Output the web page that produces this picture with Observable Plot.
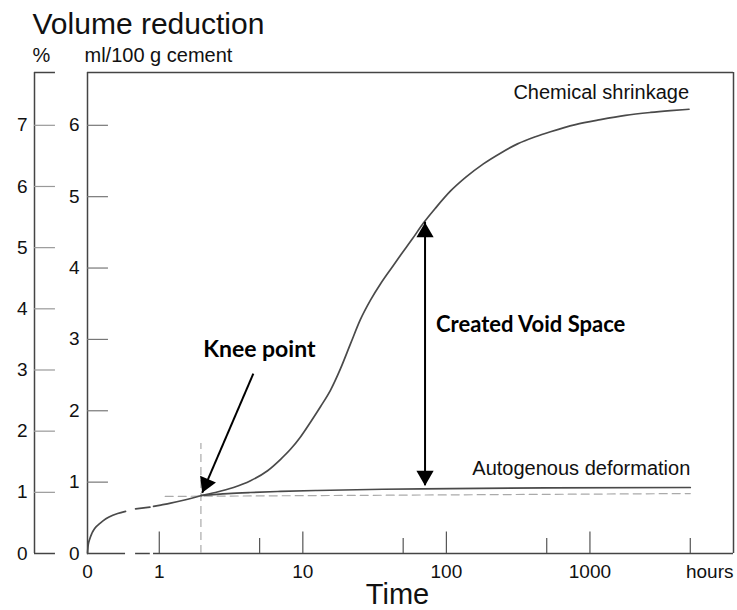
<!DOCTYPE html>
<html>
<head>
<meta charset="utf-8">
<script src="https://cdn.jsdelivr.net/npm/d3@7"></script>
<script src="https://cdn.jsdelivr.net/npm/@observablehq/plot@0.6"></script>
<style>
  html, body { margin: 0; padding: 0; background: #fff; }
  #chart svg { display: block; }
</style>
</head>
<body>
<div id="chart"></div>
<script>
// ---------- data (hours, ml/100 g cement) ----------
const earlyHours  = [0, 0.01, 0.03, 0.06, 0.1, 0.16, 0.22, 0.3, 0.42, 0.53];
const earlyValues = [0, 0.12, 0.2, 0.28, 0.35, 0.41, 0.46, 0.51, 0.56, 0.59];
const bridgeHours  = [0.67, 0.87];
const bridgeValues = [0.625, 0.65];
const preKneeHours  = [0.92, 1, 1.2, 1.5, 1.97];
const preKneeValues = [0.66, 0.675, 0.705, 0.75, 0.813];
const chemHours  = [1.97, 2.46, 3.29, 4.32, 5.68, 7.0, 8.2, 9.6, 11.3, 13.3, 15.6, 18.3, 21.5, 25.2, 29.6, 34.8, 40.8, 47.9, 58, 69.2, 84, 107, 136, 181, 238, 313, 417, 531, 793, 1183, 1767, 2638, 3637, 4900];
const chemValues = [0.813, 0.855, 0.925, 1.02, 1.16, 1.32, 1.46, 1.63, 1.84, 2.06, 2.29, 2.59, 2.94, 3.28, 3.55, 3.78, 3.98, 4.18, 4.41, 4.63, 4.84, 5.08, 5.27, 5.46, 5.61, 5.74, 5.84, 5.91, 6.01, 6.08, 6.14, 6.18, 6.205, 6.225];
const autoHours  = [1.97, 3, 4.3, 7, 12.6, 36, 107, 500, 5000];
const autoValues = [0.813, 0.84, 0.855, 0.87, 0.883, 0.9, 0.91, 0.92, 0.925];
const refLineHours  = [1.1, 5000];
const refLineValues = [0.80, 0.84];
const kneeHour = 1.95;
const kneeGuideTop = 1.54;
const kneeArrowFrom = {h: 4.52, v: 2.52};
const kneeArrowTo   = {h: 1.99, v: 0.85};
const voidArrowHour = 71;
const voidArrowTop = 4.64;
const voidArrowBottom = 0.95;
const voidLabelValue = 3.2;

// ---------- ticks ----------
const mlTicks  = [0, 1, 2, 3, 4, 5, 6];
const pctTicks = [0, 1, 2, 3, 4, 5, 6, 7];
const mlPerPct = 6 / 7;
const xLabelHours = [0, 1, 10, 100, 1000];
const xLabels = ["0", "1", "10", "100", "1000"];
const majorTickHours = [1, 10, 100, 1000];
const minorTickHours = [5, 50, 500, 5000];
const axisSolidSegments = [[0, 0.53], [0.92, 10000]];
const axisDashSegments = [[0.67, 0.875]];

// ---------- helpers ----------
const zip = (hs, vs) => hs.map((h, i) => ({h, v: vs[i]}));
// 0..1 h drawn linearly over half a decade, then log10 hours
const toU = h => h < 1 ? (h - 1) * 0.5 : Math.log10(h);
const U0 = -0.5, U1 = 4, YTOP = 6.74;
const TICK_U = 0.146;       // inner y-tick length in decade units
const PCT_DX = -53;         // offset of the % axis
const FONT = "Liberation Sans, Arial, Helvetica, sans-serif";
const BOLD = "Lato, 'Open Sans', sans-serif";
const AX = "#444", CURVE = "#4a4a4a", TXT = "#111";

const lineOpts = {x: d => toU(d.h), y: "v", stroke: CURVE, strokeWidth: 1.7, curve: "monotone-x"};

const chart = Plot.plot({
  width: 737,
  height: 610,
  marginTop: 0, marginRight: 0, marginBottom: 0, marginLeft: 0,
  x: {type: "linear", domain: [U0, U1], range: [87, 733], axis: null},
  y: {type: "linear", domain: [0, YTOP], range: [553, 72], axis: null},
  style: {fontFamily: FONT, background: "#fff", overflow: "visible"},
  marks: [
    // frame
    Plot.ruleY([YTOP], {x1: U0, x2: U1, stroke: AX, strokeWidth: 1.5}),
    Plot.ruleX([U0], {y1: 0, y2: YTOP, stroke: AX, strokeWidth: 1.5}),
    Plot.ruleX([U1], {y1: 0, y2: YTOP, stroke: AX, strokeWidth: 1.5}),
    // x axis with break
    Plot.ruleY(axisSolidSegments, {y: () => 0, x1: d => toU(d[0]), x2: d => toU(d[1]), stroke: AX, strokeWidth: 1.5}),
    Plot.ruleY(axisDashSegments, {y: () => 0, x1: d => toU(d[0]), x2: d => toU(d[1]), stroke: AX, strokeWidth: 1.5}),
    Plot.ruleX(majorTickHours, {x: toU, y1: 0, y2: 0.3, stroke: "#555", strokeWidth: 1.2}),
    Plot.ruleX(minorTickHours, {x: toU, y1: 0, y2: 0.21, stroke: "#555", strokeWidth: 1.2}),
    // main y ticks (inside)
    Plot.ruleY(mlTicks.filter(d => d > 0), {y: d => d, x1: U0, x2: U0 + TICK_U, stroke: "#777", strokeWidth: 1.2}),
    // % axis
    Plot.ruleX([U0], {dx: PCT_DX, y1: 0, y2: YTOP, stroke: AX, strokeWidth: 1.5}),
    Plot.ruleY([0, YTOP], {y: d => d, x1: U0, x2: U0 + TICK_U, dx: PCT_DX, stroke: AX, strokeWidth: 1.5}),
    Plot.ruleY(pctTicks.filter(d => d > 0), {y: p => p * mlPerPct, x1: U0, x2: U0 + TICK_U, dx: PCT_DX, stroke: "#999", strokeWidth: 1.2}),
    // dashed guides
    Plot.ruleX([kneeHour], {x: toU, y1: 0, y2: kneeGuideTop, stroke: "#aaa", strokeWidth: 1.2, strokeDasharray: "8,5"}),
    Plot.line(zip(refLineHours, refLineValues), {x: d => toU(d.h), y: "v", stroke: "#aaa", strokeWidth: 1.2, strokeDasharray: "8,5"}),
    // curves
    Plot.line(zip(earlyHours, earlyValues), lineOpts),
    Plot.line(zip(bridgeHours, bridgeValues), lineOpts),
    Plot.line(zip(preKneeHours, preKneeValues), lineOpts),
    Plot.line(zip(chemHours, chemValues), lineOpts),
    Plot.line(zip(autoHours, autoValues), lineOpts),
    // knee arrow
    Plot.link([0], {x1: () => toU(kneeArrowFrom.h), y1: () => kneeArrowFrom.v, x2: () => toU(kneeArrowTo.h), y2: () => kneeArrowTo.v, stroke: "#000", strokeWidth: 2}),
    Plot.dot([0], {x: () => toU(kneeArrowTo.h), y: () => kneeArrowTo.v, symbol: "triangle", r: 6.4, fill: "#000", stroke: "none", rotate: 203, dx: 3.9, dy: -9.2}),
    // void arrow
    Plot.ruleX([voidArrowHour], {x: toU, y1: voidArrowBottom, y2: voidArrowTop, stroke: "#000", strokeWidth: 2}),
    Plot.dot([voidArrowHour], {x: toU, y: () => voidArrowTop, symbol: "triangle", r: 6.4, fill: "#000", stroke: "none", rotate: 0, dy: 10}),
    Plot.dot([voidArrowHour], {x: toU, y: () => voidArrowBottom, symbol: "triangle", r: 6.4, fill: "#000", stroke: "none", rotate: 180, dy: -10}),
    // tick labels
    Plot.text(mlTicks, {x: () => U0, y: d => d, text: d => String(d), dx: -8, textAnchor: "end", fontSize: 19, fill: TXT}),
    Plot.text(pctTicks, {x: () => U0, y: p => p * mlPerPct, text: d => String(d), dx: PCT_DX - 7, textAnchor: "end", fontSize: 19, fill: TXT}),
    Plot.text(xLabelHours, {x: toU, y: () => 0, text: (d, i) => xLabels[i], dy: 18, fontSize: 19, fill: TXT}),
    Plot.text(["hours"], {x: () => U1, y: () => 0, text: d => d, dy: 18, textAnchor: "end", fontSize: 19, fill: TXT}),
    // curve labels
    Plot.text([chemHours.length - 1], {x: i => toU(chemHours[i]), y: i => chemValues[i], text: () => "Chemical shrinkage", textAnchor: "end", dy: -17, fontSize: 20, fill: TXT}),
    Plot.text([autoHours.length - 1], {x: i => toU(autoHours[i]), y: i => autoValues[i], text: () => "Autogenous deformation", textAnchor: "end", dy: -19, fontSize: 20, fill: TXT}),
    // annotations
    Plot.text(["Knee point"], {x: () => toU(kneeArrowFrom.h), y: () => kneeArrowFrom.v, text: d => d, dx: 6, dy: -24, fontSize: 23, fontWeight: "bold", fontFamily: BOLD, fill: "#000"}),
    Plot.text(["Created Void Space"], {x: () => toU(voidArrowHour), y: () => voidLabelValue, text: d => d, dx: 11, textAnchor: "start", fontSize: 22, fontWeight: "bold", fontFamily: BOLD, fill: "#000"}),
    // titles
    Plot.text(["Volume reduction"], {frameAnchor: "top-left", lineAnchor: "middle", text: d => d, dx: 32, dy: 23.4, textAnchor: "start", fontSize: 30, fill: TXT}),
    Plot.text(["%"], {frameAnchor: "top-left", lineAnchor: "middle", text: d => d, dx: 32, dy: 54.6, textAnchor: "start", fontSize: 20, fill: TXT}),
    Plot.text(["ml/100 g cement"], {frameAnchor: "top-left", lineAnchor: "middle", text: d => d, dx: 84, dy: 54.6, textAnchor: "start", fontSize: 20, fill: TXT}),
    Plot.text(["Time"], {frameAnchor: "bottom-left", lineAnchor: "middle", text: d => d, dx: 397, dy: -16, textAnchor: "middle", fontSize: 29, fill: TXT})
  ]
});
document.getElementById("chart").appendChild(chart);
</script>
</body>
</html>
